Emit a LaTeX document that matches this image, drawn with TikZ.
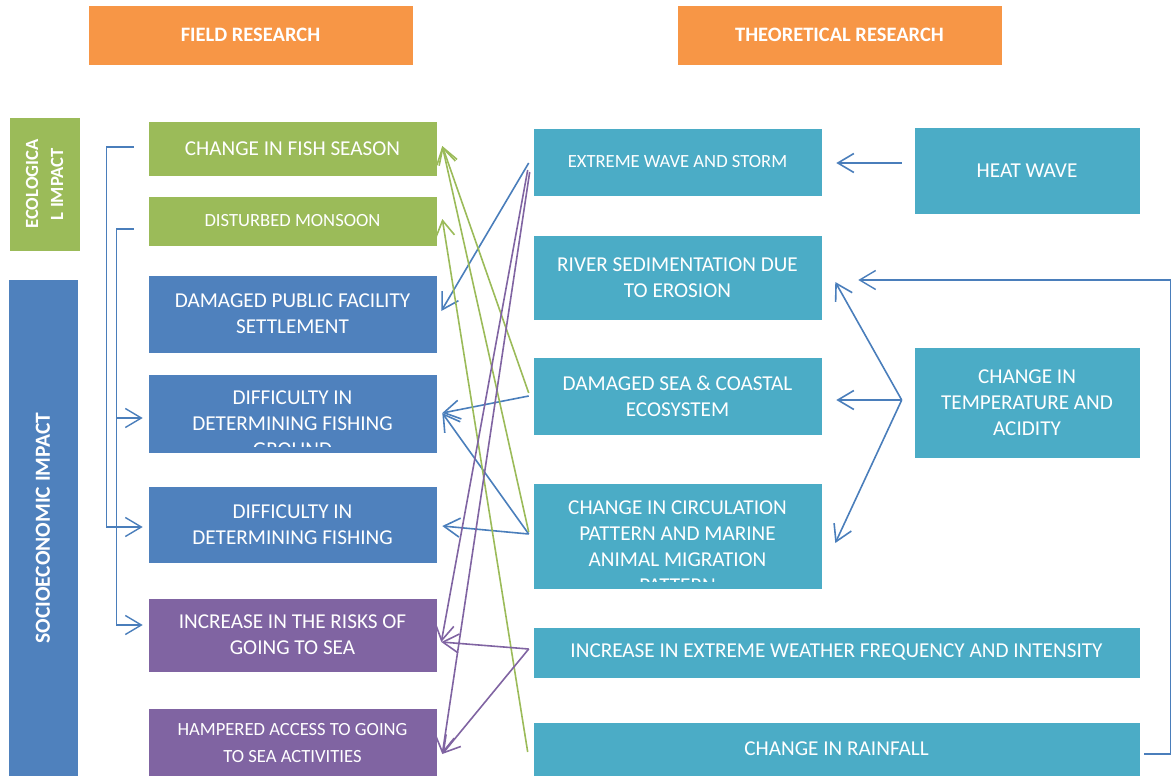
\documentclass[tikz,border=0pt]{standalone}
\usepackage{fontspec}
\setmainfont{Carlito}
\usetikzlibrary{arrows.meta,calc}
\definecolor{cgreen}{HTML}{9BBB59}
\definecolor{cblue}{HTML}{4F81BD}
\definecolor{cpurple}{HTML}{8064A2}
\definecolor{cteal}{HTML}{4BACC6}
\definecolor{corange}{HTML}{F79646}
\definecolor{lblue}{HTML}{4A7EBB}
\begin{document}
\begin{tikzpicture}[x=1pt,y=-1pt,
  box/.style={rectangle,inner sep=0pt,text=white,align=center,draw=white,line width=0.6pt},
  big/.style={font=\fontsize{21.2}{26}\selectfont},
  small/.style={font=\fontsize{18.6}{27}\selectfont},
  hdr/.style={box,fill=corange,font=\bfseries\fontsize{20.5}{24}\selectfont,minimum width=325pt,minimum height=60pt},
  lbox/.style={box,minimum width=289pt},
  arr/.style={-{Straight Barb[length=16pt,width=19pt]},line width=1.6pt,line join=round},
  barr/.style={arr,draw=lblue},
  garr/.style={arr,draw=cgreen},
  parr/.style={arr,draw=cpurple},
  brk/.style={line width=1.4pt,draw=lblue,-{Straight Barb[length=16pt,width=19pt]}}
]
\useasboundingbox (0,0) rectangle (1171,776);
% headers
\node[hdr] (fr) at (250.5,35) {FIELD RESEARCH};
\node[hdr] (tr) at (839.5,35) {THEORETICAL RESEARCH};
% side labels
\node[box,fill=cgreen,minimum width=71pt,minimum height=134pt] (eco) at (44.5,184) {};
\node[text=white,align=center,rotate=90,font=\bfseries\fontsize{18.6}{25}\selectfont] (ecot) at (eco.center) {ECOLOGICA\\L IMPACT};
\node[box,fill=cblue,minimum width=70pt,minimum height=500pt] (soc) at (43,529) {};
\node[text=white,rotate=90,font=\bfseries\fontsize{21.5}{24}\selectfont] (soct) at (43,528) {SOCIOECONOMIC IMPACT};
% left column
\node[lbox,fill=cgreen,minimum height=55pt,big] (fish) at (292.5,149) {CHANGE IN FISH SEASON};
\node[lbox,fill=cgreen,minimum height=50pt,small] (mon) at (292.5,221) {DISTURBED MONSOON};
\node[lbox,fill=cblue,minimum height=78pt,big] (pub) at (292.5,314) {DAMAGED PUBLIC FACILITY\\SETTLEMENT};
\node[lbox,fill=cblue,minimum height=79pt] (dif1) at (292.5,413.5) {};
\begin{scope}
\clip ($(dif1.south west)+(0,-7)$) rectangle (dif1.north east);
\node[text=white,align=center,anchor=north,big,inner sep=0pt] (dif1t) at ($(dif1.north)+(0,17)$) {DIFFICULTY IN\\DETERMINING FISHING\\GROUND};
\end{scope}
\node[lbox,fill=cblue,minimum height=77pt,big] (dif2) at (292.5,524.5) {DIFFICULTY IN\\DETERMINING FISHING};
\node[lbox,fill=cpurple,minimum height=74pt,big] (risk) at (292.5,635) {INCREASE IN THE RISKS OF\\GOING TO SEA};
\node[lbox,fill=cpurple,minimum height=70pt,small] (ham) at (292.5,743) {HAMPERED ACCESS TO GOING\\TO SEA ACTIVITIES};
% middle column
\node[lbox,fill=cteal,minimum height=68pt,small] (ew) at (677.5,162) {EXTREME WAVE AND STORM};
\node[lbox,fill=cteal,minimum height=85pt,big] (riv) at (677.5,277.5) {RIVER SEDIMENTATION DUE\\TO EROSION};
\node[lbox,fill=cteal,minimum height=78pt,big] (sea) at (677.5,396) {DAMAGED SEA \& COASTAL\\ECOSYSTEM};
\node[lbox,fill=cteal,minimum height=106pt] (circ) at (677.5,536) {};
\begin{scope}
\clip ($(circ.south west)+(0,-8)$) rectangle (circ.north east);
\node[text=white,align=center,anchor=north,big,inner sep=0pt] (circt) at ($(circ.north)+(0,18)$) {CHANGE IN CIRCULATION\\PATTERN AND MARINE\\ANIMAL MIGRATION\\PATTERN};
\end{scope}
\node[box,fill=cteal,minimum width=607pt,minimum height=51pt,big] (wx) at (836.5,652.5) {INCREASE IN EXTREME WEATHER FREQUENCY AND INTENSITY};
\node[box,fill=cteal,minimum width=607pt,minimum height=54pt,big] (rain) at (836.5,749) {CHANGE IN RAINFALL};
% right column
\node[box,fill=cteal,minimum width=226pt,minimum height=87pt,big] (heat) at (1027,170.5) {HEAT WAVE};
\node[box,fill=cteal,minimum width=226pt,minimum height=111pt,big] (temp) at (1027,402.5) {CHANGE IN\\TEMPERATURE AND\\ACIDITY};
% right connectors
\draw[barr] ($(heat.west)+(-12,-7.5)$) -- ($(ew.east)+(14,1)$);
\coordinate (ts) at ($(temp.west)+(-12,-2.5)$);
\draw[barr] (ts) -- ($(riv.east)+(13,4.5)$);
\draw[barr] (ts) -- ($(sea.east)+(14,4)$);
\draw[barr] (ts) -- ($(circ.east)+(13,7)$);
\draw[brk] ($(rain.east)+(4,5)$) -- ++(26,0) |- ($(riv.east)+(36,2.5)$);
% left brackets
\draw[brk] ($(fish.west)+(-14,-2)$) -- ++(-27,0) |- ($(dif2.west)+(-5,2.5)$);
\coordinate (b2) at ($(mon.west)+(-31,8)$);
\draw[brk] ($(mon.west)+(-14,8)$) -- (b2) |- ($(risk.west)+(-5,-10)$);
\coordinate (d1e) at ($(dif1.west)+(-5,4.5)$);
\draw[brk] (b2 |- d1e) -- (d1e);
% middle connectors
\draw[barr] ($(ew.west)+(-4,1)$) -- ($(pub.east)+(4,-3)$);
\draw[barr] ($(sea.west)+(-4,0)$) -- ($(dif1.east)+(5,-0.5)$);
\draw[barr] ($(circ.west)+(-4,-2)$) -- ($(dif1.east)+(5,-0.5)$);
\draw[barr] ($(circ.west)+(-4,-2)$) -- ($(dif2.east)+(5,1.5)$);
\draw[garr] ($(sea.west)+(-4,-3)$) -- ($(fish.east)+(5,-3)$);
\draw[garr] ($(circ.west)+(-4,-4)$) -- ($(fish.east)+(5,-3)$);
\draw[garr] ($(rain.west)+(-5,3)$) -- ($(mon.east)+(5,-2)$);
\draw[parr] ($(ew.west)+(-5,8)$) -- ($(risk.east)+(4,7)$);
\draw[parr] ($(ew.west)+(-3,10)$) -- ($(ham.east)+(5,11)$);
\draw[parr] ($(wx.west)+(-4,-3.5)$) -- ($(risk.east)+(4,7)$);
\draw[parr] ($(wx.west)+(-4,-3.5)$) -- ($(ham.east)+(5,11)$);
\end{tikzpicture}
\end{document}
